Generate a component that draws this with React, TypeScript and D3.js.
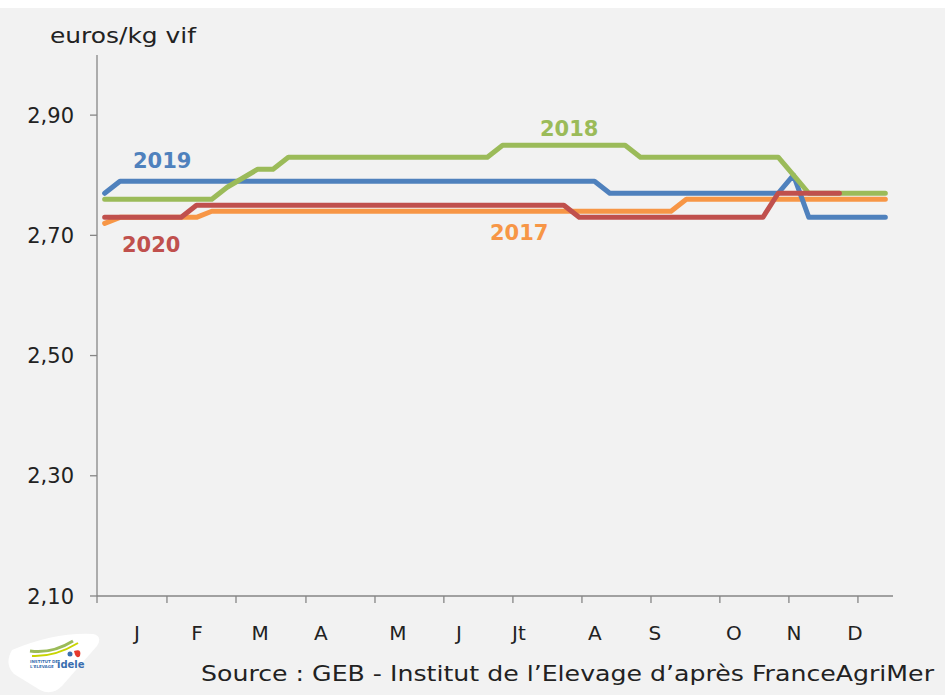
import * as d3 from "d3";

const W = 945;
const H = 695;
const PLOT = { left: 97, right: 893, top: 55, bottom: 596 };

// weekly prices, euros/kg vif (52 weeks)
const s2017 = [
  2.72, 2.73, 2.73, 2.73, 2.73, 2.73, 2.73, 2.74, 2.74, 2.74, 2.74, 2.74, 2.74,
  2.74, 2.74, 2.74, 2.74, 2.74, 2.74, 2.74, 2.74, 2.74, 2.74, 2.74, 2.74, 2.74,
  2.74, 2.74, 2.74, 2.74, 2.74, 2.74, 2.74, 2.74, 2.74, 2.74, 2.74, 2.74, 2.76,
  2.76, 2.76, 2.76, 2.76, 2.76, 2.76, 2.76, 2.76, 2.76, 2.76, 2.76, 2.76, 2.76,
];
const s2018 = [
  2.76, 2.76, 2.76, 2.76, 2.76, 2.76, 2.76, 2.76, 2.78, 2.795, 2.81, 2.81, 2.83,
  2.83, 2.83, 2.83, 2.83, 2.83, 2.83, 2.83, 2.83, 2.83, 2.83, 2.83, 2.83, 2.83,
  2.85, 2.85, 2.85, 2.85, 2.85, 2.85, 2.85, 2.85, 2.85, 2.83, 2.83, 2.83, 2.83,
  2.83, 2.83, 2.83, 2.83, 2.83, 2.83, 2.8, 2.77, 2.77, 2.77, 2.77, 2.77, 2.77,
];
const s2019 = [
  2.77, 2.79, 2.79, 2.79, 2.79, 2.79, 2.79, 2.79, 2.79, 2.79, 2.79, 2.79, 2.79,
  2.79, 2.79, 2.79, 2.79, 2.79, 2.79, 2.79, 2.79, 2.79, 2.79, 2.79, 2.79, 2.79,
  2.79, 2.79, 2.79, 2.79, 2.79, 2.79, 2.79, 2.77, 2.77, 2.77, 2.77, 2.77, 2.77,
  2.77, 2.77, 2.77, 2.77, 2.77, 2.77, 2.8, 2.73, 2.73, 2.73, 2.73, 2.73, 2.73,
];
const s2020 = [
  2.73, 2.73, 2.73, 2.73, 2.73, 2.73, 2.75, 2.75, 2.75, 2.75, 2.75, 2.75, 2.75,
  2.75, 2.75, 2.75, 2.75, 2.75, 2.75, 2.75, 2.75, 2.75, 2.75, 2.75, 2.75, 2.75,
  2.75, 2.75, 2.75, 2.75, 2.75, 2.73, 2.73, 2.73, 2.73, 2.73, 2.73, 2.73, 2.73,
  2.73, 2.73, 2.73, 2.73, 2.73, 2.77, 2.77, 2.77, 2.77, 2.77,
];

const yTicks = [2.1, 2.3, 2.5, 2.7, 2.9];
const months = ["J", "F", "M", "A", "M", "J", "Jt", "A", "S", "O", "N", "D"];
// where month labels sit, in weeks from the axis start
const monthPos = [2.61, 6.53, 10.65, 14.63, 19.66, 23.65, 27.56, 32.53, 36.45, 41.61, 45.53, 49.51];
const xTickWeeks = [0, 4.57, 9.08, 13.65, 18.16, 22.66, 27.17, 31.68, 36.19, 40.69, 45.2, 49.71];

const series = [
  { name: "2017", values: s2017, color: "#f79646", label: [25.67, 2.6925] },
  { name: "2019", values: s2019, color: "#4f81bd", label: [2.35, 2.812] },
  { name: "2018", values: s2018, color: "#9bbb59", label: [28.94, 2.865] },
  { name: "2020", values: s2020, color: "#c0504d", label: [1.63, 2.673] },
];

const FONT = "'DejaVu Sans', sans-serif";

export default function App() {
  const x = d3.scaleLinear().domain([0, 52]).range([PLOT.left, PLOT.right]);
  const y = d3.scaleLinear().domain([2.1, 3.0]).range([PLOT.bottom, PLOT.top]);

  const line = d3
    .line<number>()
    .x((_, i) => x(i + 0.5))
    .y((d) => y(d));

  return (
    <svg
      width={W}
      height={H}
      style={{ position: "absolute", left: 0, top: 0 }}
      fontFamily={FONT}
    >
      <rect x={0} y={0} width={W} height={H} fill="#ffffff" />
      <rect x={0} y={8} width={W} height={H - 8} fill="#f2f2f2" />

      {/* y axis */}
      <line x1={PLOT.left} x2={PLOT.left} y1={PLOT.top} y2={PLOT.bottom} stroke="#868686" strokeWidth={1.3} />
      {yTicks.map((t) => (
        <g key={t}>
          <line x1={PLOT.left - 7} x2={PLOT.left} y1={y(t)} y2={y(t)} stroke="#868686" strokeWidth={1.3} />
          <text x={74} y={y(t)} dy="0.36em" textAnchor="end" fontSize={21} fill="#222222">
            {t.toFixed(2).replace(".", ",")}
          </text>
        </g>
      ))}
      <text x={50} y={43} fontSize={21} fill="#222222" textLength={146} lengthAdjust="spacingAndGlyphs">
        euros/kg vif
      </text>

      {/* x axis */}
      <line x1={PLOT.left} x2={PLOT.right} y1={PLOT.bottom} y2={PLOT.bottom} stroke="#868686" strokeWidth={1.3} />
      {xTickWeeks.map((w) => (
        <line key={w} x1={x(w)} x2={x(w)} y1={PLOT.bottom} y2={PLOT.bottom + 7} stroke="#868686" strokeWidth={1.3} />
      ))}
      {months.map((m, i) => (
        <text key={i} x={x(monthPos[i])} y={640} textAnchor="middle" fontSize={20} fill="#222222">
          {m}
        </text>
      ))}

      {/* series */}
      {series.map((s) => (
        <path
          key={s.name}
          d={line(s.values) || ""}
          fill="none"
          stroke={s.color}
          strokeWidth={5}
          strokeLinejoin="round"
          strokeLinecap="round"
        />
      ))}
      {series.map((s) => (
        <text
          key={"l" + s.name}
          x={x(s.label[0])}
          y={y(s.label[1])}
          fontSize={21}
          fontWeight="bold"
          fill={s.color}
        >
          {s.name}
        </text>
      ))}

      {/* source */}
      <text x={201} y={681} fontSize={22} fill="#222222" textLength={733} lengthAdjust="spacingAndGlyphs">
        Source : GEB - Institut de l’Elevage d’après FranceAgriMer
      </text>

      {/* idele logo */}
      <g>
        <path
          d="M12,650 Q55,632 93,634 Q103,636 97,646 L62,686 Q52,696 40,690 L14,674 Q4,664 12,650 Z"
          fill="#ffffff"
        />
        <path d="M30,651 Q52,654 73,641" fill="none" stroke="#9bbb59" strokeWidth={3} />
        <path d="M32,656 Q55,657 78,643" fill="none" stroke="#c8d400" strokeWidth={2} />
        <path d="M74,651 Q82,648 80,656 Q76,660 74,651 Z" fill="#e63a2e" />
        <circle cx={70} cy={654} r={2.5} fill="#3a6fb0" />
        <text x={30} y={663} fontSize={4} fill="#3a6fb0" fontWeight="bold">INSTITUT DE</text>
        <text x={30} y={668} fontSize={4} fill="#3a6fb0" fontWeight="bold">L'ELEVAGE</text>
        <text x={57} y={668} fontSize={10} fill="#3a6fb0" fontWeight="bold">idele</text>
      </g>
    </svg>
  );
}
